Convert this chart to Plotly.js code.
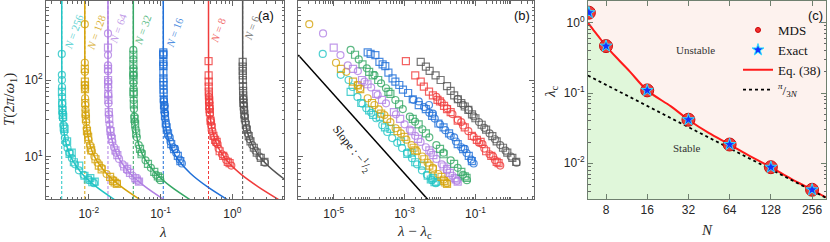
<!DOCTYPE html>
<html><head><meta charset="utf-8">
<script src="https://cdn.plot.ly/plotly-3.0.1.min.js"></script>
<style>html,body{margin:0;padding:0;background:#fff}#g{width:830px;height:242px}</style>
</head><body><div id="g"></div>
<script>
// ---------- data ----------
const Nlist = [256,128,64,32,16,8,6];
const lamC  = [0.0042,0.0088,0.0185,0.0417,0.109,0.465,1.39];
const cols  = ['#22c4c4','#d4a20a','#b07fe3','#35a765','#1f6fd8','#f03c3c','#555555'];
const labCols = ['#5ed3d3','#dbb23a','#c29be8','#5ebc86','#4f8ee0','#f26a6a','#7a7a7a'];

// solid curves of panel (a): T values, and lambda - lambda_c for each N
const curveT = [1500,400,150,80,50,30,20,13,9,6,4,2.5];
const cD256 = [6.1e-8,8.6e-7,6.1e-6,2.14e-5,5.5e-5,1.52e-4,3.4e-4,8.1e-4,1.69e-3,3.8e-3,8.6e-3,0.0219];
const cD128 = [1.41e-7,1.98e-6,1.41e-5,4.95e-5,1.27e-4,3.5e-4,7.9e-4,1.88e-3,3.9e-3,8.8e-3,0.0198,0.0507];
const cD64  = [3.06e-7,4.3e-6,3.06e-5,1.08e-4,2.76e-4,7.7e-4,1.72e-3,4.08e-3,8.5e-3,0.0191,0.0431,0.110];
const cD32  = [7.1e-7,9.9e-6,7.1e-5,2.48e-4,6.4e-4,1.77e-3,3.98e-3,9.4e-3,0.0196,0.0442,0.0994,0.254];
const cD16  = [2.44e-6,3.4e-5,2.44e-4,8.6e-4,2.19e-3,6.1e-3,0.0137,0.0324,0.0677,0.152,0.343,0.877];
const cD8   = [1.30e-5,1.83e-4,1.30e-3,4.56e-3,0.0117,0.0324,0.073,0.173,0.360,0.811,1.83,4.67];
const cD6   = [4.4e-5,6.25e-4,4.44e-3,0.0156,0.040,0.111,0.25,0.592,1.23,2.78,6.25,16];

// MDS points: lambda - lambda_c (d) and period T, circles (C) and squares (S)
const dC256 = [4.9e-6,1.58e-5,2.63e-5,3.39e-5,4.68e-5,6.46e-5,8.3e-5,1.15e-4,1.58e-4,2.34e-4,3.24e-4,4.47e-4,6.2e-4,8.5e-4,1.17e-3,1.62e-3,2.24e-3,3.09e-3,4.27e-3,5.9e-3,7.6e-3];
const tC256 = [219,117,100,81,60,49,42.7,37.2,31.6,25.7,20.9,17.4,15.1,12.9,11.2,9.5,7.9,6.6,5.75,4.9,4.47];
const dS256 = [2.0e-4,4.0e-4,7.9e-4,1.58e-3,3.16e-3,6.3e-3,7.9e-3,3e-5,6e-5,1.0e-4,1.3e-4,2.8e-4,1.2e-3,2.0e-3,4.5e-3,5.5e-3,7.0e-3];
const tS256 = [33,22.9,15.8,11.2,7.6,5.2,4.7,70,50,40,35,24,10.8,8.4,5.6,5.0,4.6];

const dC128 = [2.04e-6,1.16e-5,2.27e-5,4.8e-5,5.6e-5,9.1e-5,1.41e-4,1.86e-4,2.69e-4,3.98e-4,5.6e-4,7.9e-4,1.12e-3,1.58e-3,2.24e-3,3.16e-3,4.47e-3,6.3e-3,8.9e-3,0.0126,0.0158];
const tC128 = [537,168,128,86,77.8,57.7,47.1,41.4,34.8,28.2,23.4,20.0,16.6,14.1,11.7,10.0,8.3,7.1,5.9,5.0,4.47];
const dS128 = [4.8e-5,5.6e-5,2.19e-4,6.3e-4,2.0e-3,6.3e-3,0.0141,0.0158,1.6e-5,3.5e-5,1.2e-4,3.2e-4,1.0e-3,1.8e-3,3.6e-3,5.0e-3,0.011,0.013];
const tS128 = [85,76,36.3,21.4,12.0,6.8,4.57,4.37,140,95,50,31,18,13,9.2,7.6,5.4,4.8];

const dC64 = [5.0e-6,1.55e-5,2.5e-5,4.8e-5,7.4e-5,1.14e-4,1.74e-4,2.99e-4,5.7e-4,1.0e-3,1.41e-3,2.0e-3,2.82e-3,3.98e-3,5.6e-3,7.9e-3,0.0112,0.0158,0.0224,0.0302];
const tC64 = [407,212,155,131,95,80,63.7,49.5,35.6,26.3,22.4,18.6,15.5,13.2,11.2,9.3,7.9,6.6,5.6,4.8];
const dS64 = [6.3e-5,1.58e-4,5.0e-4,1.58e-3,5.0e-3,0.0158,0.0282,0.0316,1.0e-5,3.5e-5,9.0e-5,2.3e-4,7.5e-4,2.4e-3,6.5e-3,0.0126,0.019,0.026];
const tS64 = [100,66,38,21.4,12.0,6.9,5.0,4.7,265,140,88,55,31,17,10.4,7.4,6.1,5.2];

const dC32 = [3.0e-5,5.1e-5,8.6e-5,1.41e-4,2.17e-4,2.99e-4,5.5e-4,8.9e-4,1.41e-3,1.98e-3,3.17e-3,5.0e-3,7.9e-3,0.0126,0.02,0.0316,0.0447,0.0575];
const tC32 = [247,186,142,116,90.6,78,54.8,41.7,33.1,28.5,22.7,17.8,14.1,11.2,8.9,7.1,5.75,4.9];
const dS32 = [4.0e-5,1.26e-4,3.98e-4,2.5e-3,0.0126,0.0562,6.5e-5,1.0e-4,1.8e-4,3.5e-4,7.0e-4,1.7e-3,4.0e-3,0.01,0.025,0.04,0.05];
const tS32 = [214,115,66,26.3,10.7,5.25,160,128,100,70,48,31,20,12.6,8.0,6.3,5.5];

const dC16 = [1.78e-3,2.51e-3,3.55e-3,4.89e-3,5.0e-3,6.3e-3,7.1e-3,0.01,0.0141,0.02,0.0251,0.0282,0.0398,0.0501,0.0562,0.0759,0.0891];
const tC16 = [55,52.5,44.2,47.1,37.2,36.3,31.3,26.3,22.1,18.6,17.8,15.7,13.2,12.6,11.1,9.1,8.1];
const dS16 = [9.1e-5,1.5e-4,1.95e-4,2.86e-4,4.58e-4,7.1e-4,1.26e-3,2.51e-3,3.98e-3,0.0126,0.0316,0.0794,1.1e-4,2.4e-4,3.5e-4,5.5e-4,9.0e-4,1.7e-3,6.0e-3,9.0e-3,0.018,0.045,0.065];
const tS16 = [230,212,173,152,105,86,67.6,46.8,41.7,24,14.5,8.7,220,160,125,95,75,56,34,27,20,12.5,10.2];

const dC8 = [7.9e-3,0.0112,0.0158,0.0224,0.0316,0.0398,0.0447,0.0631,0.0891,0.126,0.158,0.178,0.251,0.316,0.355,0.501];
const tC8 = [60.3,50.7,42.7,35.9,30.2,28.2,25.4,21.4,18.0,15.1,14.5,12.7,10.7,10,9.0,7.6];
const dS8 = [1.09e-3,2.86e-3,4.9e-3,6.3e-3,0.01,0.0158,0.0316,0.0794,0.2,0.398,2.0e-3,3.5e-3,8.5e-3,0.013,0.02,0.05,0.11,0.14,0.28,0.45];
const tS8 = [177,95,70.3,63,52.5,41.7,29.5,18.6,11.7,8.5,115,82,55,46,38,24,16.5,15.5,10.2,8.2];

const dC6 = [0.0316,0.0447,0.0646,0.0891,0.126,0.178,0.251,0.355,0.501,0.708,1.0,1.45];
const tC6 = [56.2,47.3,40.6,33.5,28.2,23.7,20.0,16.8,14.1,11.9,10.0,8.3];
const dS6 = [2.86e-3,5.1e-3,0.0104,0.0158,0.0251,0.0398,0.0631,0.1,0.2,0.398,0.794,1.41,4.0e-3,7.5e-3,0.02,0.032,0.05,0.08,0.15,0.3,0.6,1.1];
const tS6 = [173,132,100,83,63,50,40.7,31.6,22.4,15.8,11.2,8.5,150,115,72,56,45,35.5,26,18.5,13,9.6];

// slope guide in (b)
const slopeX = [1e-6, 1e-2];
const slopeY = [212, 1.82];

// panel (c)
const Nc = [6,8,16,32,64,128,256];
const lamMDS = [1.39,0.465,0.109,0.0417,0.0185,0.0088,0.0042];
const lamExact = [1.39,0.465,0.109,0.0417,0.0185,0.0088,0.0042];
const Neq = [5.9,6.5,7,8,10,12,16,24,32,45,64,90,128,180,256,324];
const lamEq = [1.0,0.78,0.65,0.465,0.29,0.2,0.109,0.064,0.0417,0.027,0.0185,0.0126,0.0088,0.006,0.0042,0.00327];
const Npi = [5.9, 324];
const lamPi = [0.1775, 0.00323];

// ---------- build ----------
const sets = [
  {dC:dC256,tC:tC256,dS:dS256,tS:tS256,cD:cD256},
  {dC:dC128,tC:tC128,dS:dS128,tS:tS128,cD:cD128},
  {dC:dC64,tC:tC64,dS:dS64,tS:tS64,cD:cD64},
  {dC:dC32,tC:tC32,dS:dS32,tS:tS32,cD:cD32},
  {dC:dC16,tC:tC16,dS:dS16,tS:tS16,cD:cD16},
  {dC:dC8,tC:tC8,dS:dS8,tS:tS8,cD:cD8},
  {dC:dC6,tC:tC6,dS:dS6,tS:tS6,cD:cD6}
];
const traces = [];
const mk = (sym,col)=>({symbol:sym,size:7,color:col,opacity:0.8,line:{width:1.2,color:col}});
sets.forEach((s,i)=>{
  const lc = lamC[i], c = cols[i];
  traces.push({x:s.dC.map(d=>lc+d),y:s.tC,xaxis:'x',yaxis:'y',mode:'markers',marker:mk('circle-open',c),showlegend:false,hoverinfo:'skip'});
  traces.push({x:s.dS.map(d=>lc+d),y:s.tS,xaxis:'x',yaxis:'y',mode:'markers',marker:mk('square-open',c),showlegend:false,hoverinfo:'skip'});
  traces.push({x:s.dC,y:s.tC,xaxis:'x2',yaxis:'y2',mode:'markers',marker:mk('circle-open',c),showlegend:false,hoverinfo:'skip'});
  traces.push({x:s.dS,y:s.tS,xaxis:'x2',yaxis:'y2',mode:'markers',marker:mk('square-open',c),showlegend:false,hoverinfo:'skip'});
});
sets.forEach((s,i)=>{
  traces.push({x:s.cD.map(d=>lamC[i]+d),y:curveT,xaxis:'x',yaxis:'y',mode:'lines',line:{color:cols[i],width:1.5,shape:'spline',smoothing:0.8},showlegend:false,hoverinfo:'skip'});
});
traces.push({x:slopeX,y:slopeY,xaxis:'x2',yaxis:'y2',mode:'lines',line:{color:'#000',width:1.5},showlegend:false,hoverinfo:'skip'});

// panel (c)
traces.push({x:[...Neq,324,5.9],y:[...lamEq,1e-4,1e-4],xaxis:'x3',yaxis:'y3',mode:'none',fill:'toself',fillcolor:'#e0f7da',showlegend:false,hoverinfo:'skip'});
traces.push({x:[...Neq,324,5.9],y:[...lamEq,10,10],xaxis:'x3',yaxis:'y3',mode:'none',fill:'toself',fillcolor:'#fdf2ee',showlegend:false,hoverinfo:'skip'});
traces.push({x:Neq,y:lamEq,xaxis:'x3',yaxis:'y3',mode:'lines',line:{color:'#ff1a1a',width:2,shape:'spline'},name:'Eq. (38)',legendrank:3});
traces.push({x:Npi,y:lamPi,xaxis:'x3',yaxis:'y3',mode:'lines',line:{color:'#000',width:1.8,dash:'dot'},name:'<sup><i>π</i></sup>/<sub>3<i>N</i></sub>',legendrank:4});
traces.push({x:Nc,y:lamMDS,xaxis:'x3',yaxis:'y3',mode:'markers',marker:{symbol:'circle',size:13,color:'rgba(240,40,40,0.9)',line:{color:'#c81010',width:1}},showlegend:false,hoverinfo:'skip'});
traces.push({x:Nc,y:lamMDS,xaxis:'x3',yaxis:'y3',mode:'markers',marker:{symbol:'circle',size:5,color:'#f03030',line:{color:'#c00',width:1}},error_y:{type:'percent',value:6,color:'#f03030',thickness:1,width:2},name:'MDS',legendrank:1});
traces.push({x:Nc,y:lamExact,xaxis:'x3',yaxis:'y3',mode:'markers',marker:{symbol:'star',size:9,color:'#1530ff',line:{color:'#30e0ff',width:1}},name:'Exact',legendrank:2});

// ---------- layout ----------
const W=830,H=242;
const yDom=[1-199/H,1-1/H];
const minors=(lo,hi)=>{const v=[];for(let d=lo;d<=hi;d++)for(let k=2;k<=9;k++)v.push(k*Math.pow(10,d));return v;};
const tf={family:'Liberation Sans, Arial, sans-serif',size:12,color:'#262626'};
const base={type:'log',showline:true,linecolor:'#666',linewidth:1,mirror:'allticks',ticks:'inside',ticklen:5,tickcolor:'#666',showgrid:false,zeroline:false,tickfont:tf,tickmode:'array'};
const mn=(lo,hi,extra)=>({tickmode:'array',tickvals:minors(lo,hi).concat(extra||[]),ticks:'inside',ticklen:2.5,tickcolor:'#666',showgrid:false});

const layout={
  width:W,height:H,margin:{l:0,r:0,t:0,b:0},paper_bgcolor:'#fff',plot_bgcolor:'rgba(0,0,0,0)',
  font:{family:'Liberation Sans, Arial, sans-serif',color:'#262626'},
  xaxis:Object.assign({},base,{domain:[46/W,284/W],range:[-2.596,0.719],tickvals:[0.01,0.1,1],ticktext:['10<sup>-2</sup>','10<sup>-1</sup>','10<sup>0</sup>'],minor:mn(-3,0),anchor:'y',ticklabelstandoff:4}),
  yaxis:Object.assign({},base,{domain:yDom,range:[0.444,3.033],tickvals:[10,100],ticktext:['10<sup>1</sup>','10<sup>2</sup>'],minor:mn(0,3),anchor:'x'}),
  xaxis2:Object.assign({},base,{domain:[298/W,534/W],range:[-6.008,0.653],tickvals:[1e-5,1e-3,1e-1],ticktext:['10<sup>-5</sup>','10<sup>-3</sup>','10<sup>-1</sup>'],minor:mn(-7,0,[1e-6,1e-4,1e-2,1]),anchor:'y2',ticklabelstandoff:4}),
  yaxis2:Object.assign({},base,{domain:yDom,range:[0.444,3.033],tickvals:[10,100],showticklabels:false,minor:mn(0,3),anchor:'x2'}),
  xaxis3:Object.assign({},base,{domain:[588/W,826/W],range:[0.7716,2.510],tickvals:[8,16,32,64,128,256],ticktext:['8','16','32','64','128','256'],linecolor:'#6f806f',tickcolor:'#6f806f',anchor:'y3'}),
  yaxis3:Object.assign({},base,{domain:yDom,range:[-2.508,0.309],tickvals:[0.01,0.1,1],ticktext:['10<sup>-2</sup>','10<sup>-1</sup>','10<sup>0</sup>'],minor:mn(-3,0),linecolor:'#6f806f',tickcolor:'#6f806f',anchor:'x3'}),
  legend:{x:826/W,xanchor:'right',y:1-15/H,yanchor:'top',bgcolor:'rgba(0,0,0,0)',font:{family:'Liberation Serif, Times New Roman, serif',size:13,color:'#111'},itemwidth:30,tracegroupgap:0},
  shapes:lamC.map((lc,i)=>({type:'line',xref:'x',yref:'y domain',x0:lc,x1:lc,y0:0,y1:1,line:{color:cols[i],width:1,dash:'3px,2px'},layer:'below'})),
  annotations:[]
};
const A=layout.annotations;
const P=(x,y,text,o)=>A.push(Object.assign({xref:'paper',yref:'paper',x:x/W,y:1-y/H,text:text,showarrow:false,xanchor:'center',yanchor:'middle'},o||{}));
const lpos=[[73.5,31.7],[96.7,32.4],[118.3,28],[142.7,30],[175,32.4],[218.3,30],[251.7,28.3]];
Nlist.forEach((n,i)=>P(lpos[i][0],lpos[i][1],'<i>N</i> = '+n,{textangle:-70,font:{family:'Liberation Serif, serif',size:11,color:labCols[i]}}));
P(266,15,'(a)',{font:{size:13,color:'#111'}});
P(522,15,'(b)',{font:{size:13,color:'#111'}});
P(815,15,'(c)',{font:{size:13,color:'#111'}});
P(163,232,'<i>λ</i>',{font:{family:'Liberation Serif, serif',size:15,color:'#262626'}});
P(414,232,'<i>λ</i> − <i>λ</i><sub>c</sub>',{font:{family:'Liberation Serif, serif',size:15,color:'#262626'}});
P(707,230,'<i>N</i>',{font:{family:'Liberation Serif, serif',size:15,color:'#262626'}});
P(10,100,'<i>T</i>(2<i>π</i>/<i>ω</i><sub>1</sub>)',{textangle:-90,font:{family:'Liberation Serif, serif',size:15,color:'#262626'}});
P(551,92,'<i>λ</i><sub>c</sub>',{textangle:-90,font:{family:'Liberation Serif, serif',size:15,color:'#262626'}});
P(352,148,'Slope : −<sup>1</sup>/<sub>2</sub>',{textangle:52,font:{family:'Liberation Serif, serif',size:12,color:'#111'}});
P(695,50,'Unstable',{font:{family:'Liberation Serif, serif',size:11,color:'#333'}});
P(687,148,'Stable',{font:{family:'Liberation Serif, serif',size:11,color:'#333'}});

Plotly.newPlot('g',traces,layout,{displayModeBar:false,staticPlot:true});
</script></body></html>
